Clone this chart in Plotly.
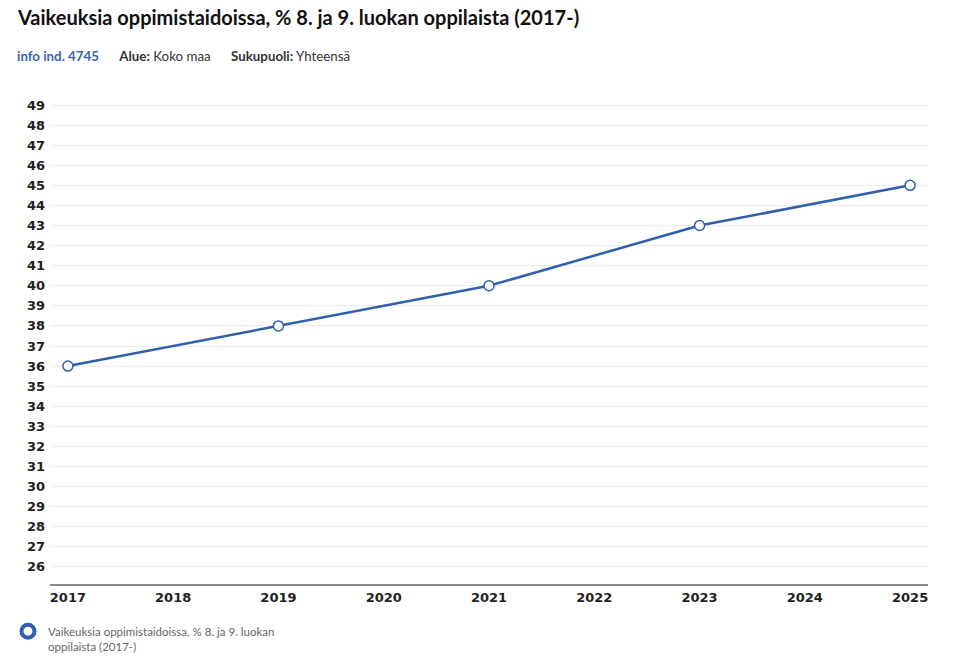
import plotly.graph_objects as go

# data
years = [2017, 2019, 2021, 2023, 2025]
values = [36, 38, 40, 43, 45]
tick_years = list(range(2017, 2026))
tick_values = list(range(26, 50))

title_text = "Vaikeuksia oppimistaidoissa, % 8. ja 9. luokan oppilaista (2017-)"
series_name = "Vaikeuksia oppimistaidoissa, % 8. ja 9. luokan<br>oppilaista (2017-)"

blue = "#2f5fae"
head_font = "Lato, Open Sans, sans-serif"

fig = go.Figure()

fig.add_trace(go.Scatter(
    x=years, y=values, mode="lines+markers",
    line=dict(color=blue, width=2.5),
    marker=dict(size=10, color="white", line=dict(color=blue, width=1.5)),
    showlegend=False,
    hoverinfo="x+y",
))

# legend only entry (thick ring)
fig.add_trace(go.Scatter(
    x=[None], y=[None], mode="markers", name=series_name,
    marker=dict(size=13, color="white", line=dict(color=blue, width=4)),
))

# page body has an 8px margin, so margins are shifted to compensate
fig.update_layout(
    width=953, height=668,
    margin=dict(l=42, r=33, t=92, b=92, autoexpand=False),
    paper_bgcolor="white", plot_bgcolor="white",
    font=dict(family="DejaVu Sans", color="#333"),
    title=dict(
        text="<b>" + title_text + "</b>",
        xref="container", yref="container", x=10 / 953, y=1 - 10 / 668,
        xanchor="left", yanchor="middle",
        font=dict(family=head_font, size=20, color="#111"),
    ),
    showlegend=True,
    legend=dict(
        xref="container", yref="container", x=0, y=0.088,
        xanchor="left", yanchor="top", valign="top",
        font=dict(family=head_font, size=11.5, color="#666"),
        itemwidth=30,
    ),
)

fig.update_xaxes(
    range=[2016.83, 2025.17],
    tickmode="array", tickvals=tick_years, ticktext=[str(y) for y in tick_years],
    showgrid=False, zeroline=False,
    showline=True, linecolor="#8a8a8a", linewidth=2,
    ticks="", tickfont=dict(family="DejaVu Sans", size=13, color="#222", weight="bold"),
)
fig.update_yaxes(
    range=[25.15, 49.25],
    tickmode="array", tickvals=tick_values,
    showgrid=True, gridcolor="#ebebeb", gridwidth=1, zeroline=False,
    showline=False, ticks="", ticklabelstandoff=4,
    tickfont=dict(family="DejaVu Sans", size=13, color="#222", weight="bold"),
)

fig.add_annotation(
    xref="paper", yref="paper", x=-35 / 878, y=1 + 44 / 484,
    xanchor="left", yanchor="middle", showarrow=False,
    text=("<b><span style='color:#3a63ad'>info ind. 4745</span></b>"
          "      <b>Alue:</b> Koko maa      <b>Sukupuoli:</b> Yhteensä"),
    font=dict(family=head_font, size=13.3, color="#333"),
)

fig.write_html("out.html")
